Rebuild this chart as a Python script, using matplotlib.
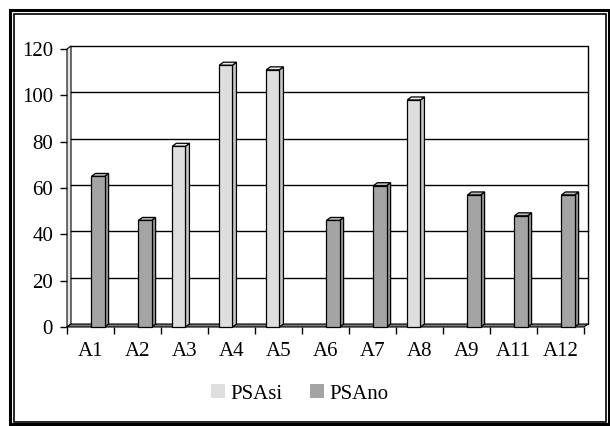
import numpy as np
import matplotlib
matplotlib.use("Agg")
import matplotlib.pyplot as plt
from matplotlib.patches import Polygon, Rectangle, Patch

categories = ["A1", "A2", "A3", "A4", "A5", "A6", "A7", "A8", "A9", "A11", "A12"]
psa_si = [0, 0, 78, 113, 111, 0, 0, 98, 0, 0, 0]
psa_no = [65, 46, 0, 0, 0, 46, 61, 0, 57, 48, 57]
series_names = ["PSAsi", "PSAno"]
y_ticks = [0, 20, 40, 60, 80, 100, 120]

plt.rcParams["font.family"] = ["Liberation Serif", "DejaVu Serif"]
FS = 15

W, H = 610, 426
fig = plt.figure(figsize=(W / 100, H / 100), dpi=100, facecolor="white")


def fx(px):
    return px / W


def fy(py):
    return 1 - py / H


# Pseudo-3D depth of the columns (data units)
dx = 4 / 47
dy = 3 / 2.317

ax = fig.add_axes([fx(67), fy(327), fx(584) - fx(67), (327 - 46) / H])
ax.set_xlim(0, len(categories))
ax.set_ylim(-dy, 120)
for s in ax.spines.values():
    s.set_visible(False)
ax.set_facecolor("none")

n = len(categories)

# Side wall
ax.add_patch(Polygon([(0, -dy), (dx, 0), (dx, 120), (0, 120 - dy)], closed=True,
                     facecolor="#e6e6e6", edgecolor="black", lw=0.8, clip_on=False, zorder=1))
# Back wall outline and gridlines
for v in y_ticks[1:-1]:
    ax.plot([dx, n + dx], [v, v], color="black", lw=1.0, zorder=1, clip_on=False)
ax.plot([dx, n + dx, n + dx], [120, 120, 0], color="black", lw=1.0, zorder=1, clip_on=False)
# Floor
ax.add_patch(Polygon([(0, -dy), (n, -dy), (n + dx, 0), (dx, 0)], closed=True,
                     facecolor="#7a7a7a", edgecolor="black", lw=0.8, clip_on=False, zorder=2))

styles = [
    dict(front="#dedede", top="#ececec", side="#c9c9c9"),
    dict(front="#a4a4a4", top="#b9b9b9", side="#929292"),
]
offsets = [(0.24, 0.52), (0.52, 0.80)]

for si, values in enumerate([psa_si, psa_no]):
    st = styles[si]
    a, b = offsets[si]
    for i, v in enumerate(values):
        if v <= 0:
            continue
        x0, x1 = i + a, i + b
        top = v - dy
        # side face
        ax.add_patch(Polygon([(x1, -dy), (x1 + dx, 0), (x1 + dx, v), (x1, top)], closed=True,
                             facecolor=st["side"], edgecolor="black", lw=0.9, zorder=3, clip_on=False))
        # top face
        ax.add_patch(Polygon([(x0, top), (x1, top), (x1 + dx, v), (x0 + dx, v)], closed=True,
                             facecolor=st["top"], edgecolor="black", lw=0.9, zorder=3, clip_on=False))
        # front face
        ax.add_patch(Rectangle((x0, -dy), x1 - x0, v, facecolor=st["front"],
                               edgecolor="black", lw=0.9, zorder=4, clip_on=False))

# Y axis ticks on the front edge
ax.set_yticks(np.array(y_ticks) - dy, labels=[str(t) for t in y_ticks])
ax.tick_params(axis="y", direction="out", length=5, width=1, pad=5, labelsize=FS, colors="black")

# X axis: tick marks between categories, labels at centres
ax.set_xticks(np.arange(n) + 0.5, labels=categories)
ax.set_xticks(np.arange(n + 1), minor=True)
ax.tick_params(axis="x", which="major", length=0, pad=11, labelsize=FS)
ax.tick_params(axis="x", which="minor", direction="out", length=5, width=1)

# Legend
handles = [Patch(facecolor=styles[0]["front"], edgecolor="none"),
           Patch(facecolor=styles[1]["front"], edgecolor="none")]
fig.legend(handles, series_names, loc="center", bbox_to_anchor=(fx(300), fy(394)),
           ncol=2, frameon=False, prop={"size": FS}, handlelength=0.65, handleheight=0.65,
           handletextpad=0.3, columnspacing=1.3)

# Chart frame (double border)
fig.add_artist(Rectangle((fx(9.5), fy(424)), fx(608.5) - fx(9.5), (424 - 9.5) / H,
                         transform=fig.transFigure, fill=False, edgecolor="black", lw=2.2))
fig.add_artist(Rectangle((fx(14.2), fy(421.5)), fx(606) - fx(14.2), (421.5 - 14.2) / H,
                         transform=fig.transFigure, fill=False, edgecolor="black", lw=1.2))

fig.savefig("out.png", dpi=100, facecolor="white")
